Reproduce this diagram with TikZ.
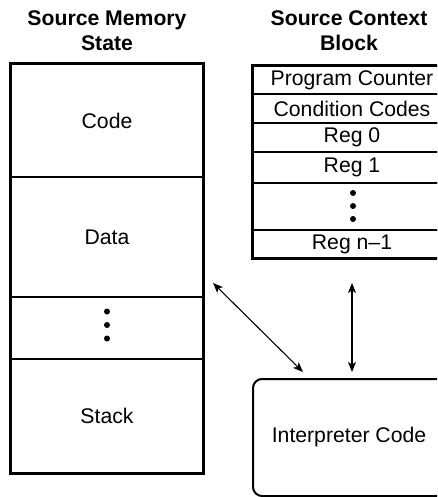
\documentclass[tikz,border=0pt]{standalone}
\usepackage{fontspec}
\setmainfont{Liberation Sans}
\usetikzlibrary{arrows.meta}
\begin{document}
\begin{tikzpicture}[x=1pt,y=-1pt,
  every node/.style={font=\fontsize{21.2}{25}\selectfont, inner sep=0pt},
  cell/.style={draw, line width=1.2pt, rectangle, anchor=center},
  title/.style={align=center, font=\fontsize{21.2}{25}\selectfont\bfseries},
  dot/.style={circle, fill=black, minimum size=6pt, inner sep=0pt},
  biarrow/.style={line width=1.1pt, {Stealth[length=10pt,width=8pt,inset=2.5pt]}-{Stealth[length=10pt,width=8pt,inset=2.5pt]}},
  frame/.style={draw, line width=2pt}
]
\useasboundingbox (0,0) rectangle (437,497);
\clip (0,0) rectangle (437,497);

% titles
\node[title] (t1) at (107,30.5) {Source Memory\\State};
\node[title] (t2) at (349,30.5) {Source Context\\Block};

% memory state
\node[cell, minimum width=192pt, minimum height=113pt] (code) at (107,120.5) {Code};
\node[cell, minimum width=192pt, minimum height=120pt] (data) at (107,237) {Data};
\node[cell, minimum width=192pt, minimum height=62pt] (mdots) at (107,328) {};
\node[cell, minimum width=192pt, minimum height=114pt] (stack) at (107,416) {Stack};
\node[dot] (md1) at (107,311.5) {};
\node[dot] (md2) at (107,325) {};
\node[dot] (md3) at (107,338.5) {};
\draw[frame] (code.north west) rectangle (stack.south east);

% context block
\node[cell, minimum width=198pt, minimum height=28pt] (pc) at (352,80) {Program Counter};
\node[cell, minimum width=198pt, minimum height=29pt] (cc) at (352,108.5) {Condition Codes};
\node[cell, minimum width=198pt, minimum height=29pt] (r0) at (352,137.5) {Reg 0};
\node[cell, minimum width=198pt, minimum height=31pt] (r1) at (352,167.5) {Reg 1};
\node[cell, minimum width=198pt, minimum height=47pt] (rdots) at (352,206.5) {};
\node[cell, minimum width=198pt, minimum height=28pt] (rn) at (352,244) {Reg n–1};
\node[dot] (rd1) at (353,193) {};
\node[dot] (rd2) at (353,206) {};
\node[dot] (rd3) at (353,219) {};
\draw[frame] (pc.north west) rectangle (rn.south east);

% interpreter
\node[draw, line width=2pt, rounded corners=9pt, minimum width=192pt, minimum height=117pt] (interp) at (349,437.5) {Interpreter Code};

% arrows
\coordinate (a1) at (213,283);
\coordinate (a2) at (303,372);
\coordinate (b1) at (352,283);
\coordinate (b2) at (352,372);
\draw[biarrow] (a1) -- (a2);
\draw[biarrow] (b1) -- (b2);
\end{tikzpicture}
\end{document}
